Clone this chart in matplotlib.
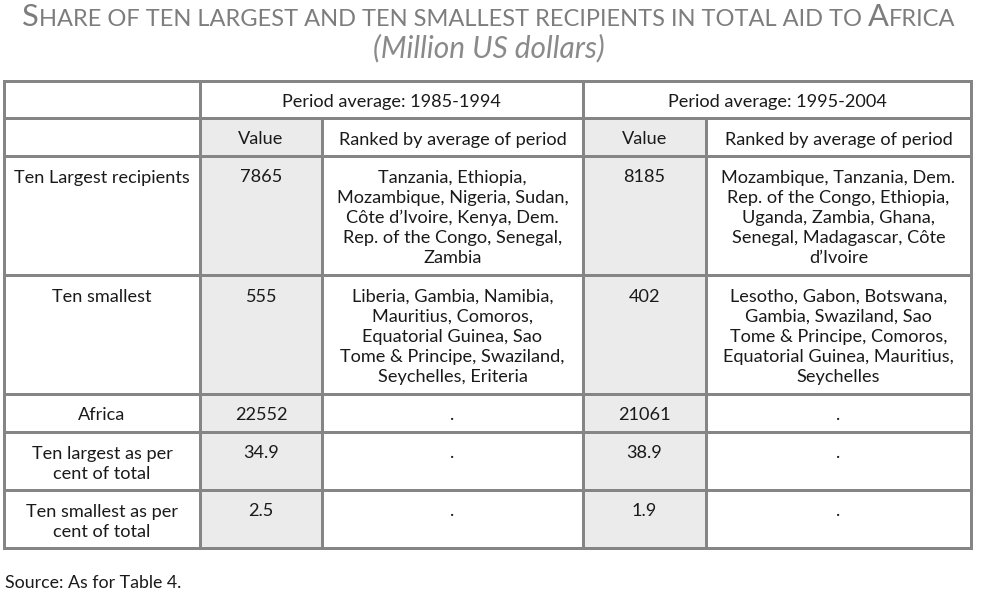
import matplotlib
matplotlib.use("Agg")
import matplotlib.pyplot as plt
from matplotlib.patches import Rectangle

# ---------------- data ----------------
title = "Share of ten largest and ten smallest recipients in total aid to Africa"
subtitle = "(Million US dollars)"
source = "Source: As for Table 4."
periods = ["Period average: 1985-1994", "Period average: 1995-2004"]
subheaders = ["Value", "Ranked by average of period"]
row_labels = ["Ten Largest recipients", "Ten smallest", "Africa",
              "Ten largest as per\ncent of total", "Ten smallest as per\ncent of total"]
values_8594 = ["7865", "555", "22552", "34.9", "2.5"]
ranked_8594 = ["Tanzania, Ethiopia,\nMozambique, Nigeria, Sudan,\nCôte d\u2019Ivoire, Kenya, Dem.\nRep. of the Congo, Senegal,\nZambia",
               "Liberia, Gambia, Namibia,\nMauritius, Comoros,\nEquatorial Guinea, Sao\nTome & Principe, Swaziland,\nSeychelles, Eriteria",
               ".", ".", "."]
values_9504 = ["8185", "402", "21061", "38.9", "1.9"]
ranked_9504 = ["Mozambique, Tanzania, Dem.\nRep. of the Congo, Ethiopia,\nUganda, Zambia, Ghana,\nSenegal, Madagascar, Côte\nd\u2019Ivoire",
               "Lesotho, Gabon, Botswana,\nGambia, Swaziland, Sao\nTome & Principe, Comoros,\nEquatorial Guinea, Mauritius,\nSeychelles",
               ".", ".", "."]

# ---------------- layout (pixels) ----------------
W, H = 1002, 597
col_x = [4, 200, 322, 583, 706, 971]
row_y = [80.5, 118, 156, 275, 394, 432, 490, 547.5]
FONT = "Lato"
LINE_C = "#858585"
SHADE_C = "#ebebeb"
TEXT_C = "#1a1a1a"
TITLE_C = "#7d7d7d"
SUB_C = "#8a8a8a"

fig = plt.figure(figsize=(W / 100, H / 100), dpi=100)
ax = fig.add_axes([0, 0, 1, 1])
ax.set_xlim(0, W)
ax.set_ylim(H, 0)
ax.axis("off")
fig.canvas.draw()
renderer = fig.canvas.get_renderer()


def text_width(s, size, **kw):
    t = ax.text(0, 0, s + "|", fontsize=size, family=FONT, **kw)
    t2 = ax.text(0, 0, "|", fontsize=size, family=FONT, **kw)
    w = t.get_window_extent(renderer).width - t2.get_window_extent(renderer).width
    t.remove(); t2.remove()
    return w

# body font size chosen so that the sub-header fits its measured width
fs = 12.0 * 227.0 / text_width(subheaders[1], 12.0)

# shading of value columns
for c in (1, 3):
    ax.add_patch(Rectangle((col_x[c], row_y[1]), col_x[c + 1] - col_x[c],
                           row_y[-1] - row_y[1], facecolor=SHADE_C, edgecolor="none", zorder=0))

lw = 3 * 72 / 100
for y in row_y:
    ax.plot([col_x[0], col_x[-1]], [y, y], color=LINE_C, lw=lw, solid_capstyle="projecting", zorder=2)
for i, x in enumerate(col_x):
    y0 = row_y[1] if i in (2, 4) else row_y[0]
    ax.plot([x, x], [y0, row_y[-1]], color=LINE_C, lw=lw, solid_capstyle="projecting", zorder=2)


def put(x, top, s):
    for i, line in enumerate(s.split("\n")):
        ax.text(x, top + 26.5 + 20.2 * i, line, ha="center", va="baseline",
                fontsize=fs, family=FONT, color=TEXT_C, zorder=3)


def cx(c0, c1):
    return (col_x[c0] + col_x[c1]) / 2

put(cx(1, 3), row_y[0], periods[0])
put(cx(3, 5), row_y[0], periods[1])
for k, c in enumerate((1, 2)):
    put(cx(c, c + 1), row_y[1], subheaders[k])
    put(cx(c + 2, c + 3), row_y[1], subheaders[k])
for r in range(len(row_labels)):
    top = row_y[r + 2]
    put(cx(0, 1), top, row_labels[r])
    put(cx(1, 2), top, values_8594[r])
    put(cx(2, 3), top, ranked_8594[r])
    put(cx(3, 4), top, values_9504[r])
    put(cx(4, 5), top, ranked_9504[r])

# ---------------- title in small caps ----------------
big, small = 19.0, 14.5
runs = []
for ch in title:
    size = big if ch.isupper() else small
    if runs and runs[-1][1] == size:
        runs[-1][0] += ch.upper()
    else:
        runs.append([ch.upper(), size])
widths = [text_width(s, z) for s, z in runs]
total = sum(widths)
target = 934.0
scale = target / total
x = 489 - target / 2
for (s, z), w in zip(runs, widths):
    ax.text(x, 26, s, fontsize=z * scale, family=FONT, color=TITLE_C,
            ha="left", va="baseline")
    x += w * scale

ax.text(489, 57, subtitle, fontsize=21.5, family=FONT, color=SUB_C,
        ha="center", va="baseline", style="italic")

ax.text(5, 588, source, fontsize=fs * 0.98, family=FONT, color=TEXT_C,
        ha="left", va="baseline")

fig.savefig("out.png", dpi=100)
